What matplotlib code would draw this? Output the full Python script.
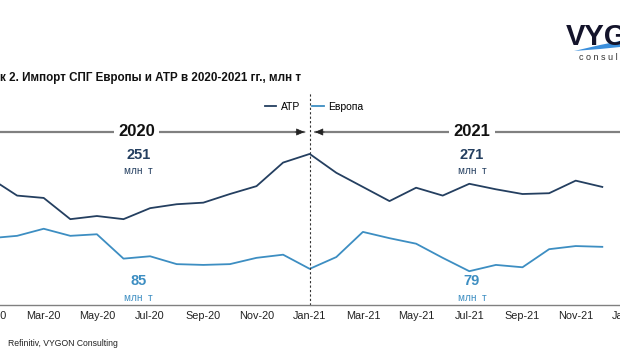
import matplotlib
matplotlib.use("Agg")
import matplotlib.pyplot as plt
from matplotlib.patches import Polygon
from matplotlib.transforms import blended_transform_factory

plt.rcParams['font.family'] = ['Liberation Sans', 'DejaVu Sans']

months = ['Jan-20', 'Feb-20', 'Mar-20', 'Apr-20', 'May-20', 'Jun-20', 'Jul-20', 'Aug-20',
          'Sep-20', 'Oct-20', 'Nov-20', 'Dec-20', 'Jan-21', 'Feb-21', 'Mar-21', 'Apr-21',
          'May-21', 'Jun-21', 'Jul-21', 'Aug-21', 'Sep-21', 'Oct-21', 'Nov-21', 'Dec-21']
apt = [23.5, 21.3, 21.0, 18.3, 18.7, 18.3, 19.7, 20.2, 20.4, 21.5, 22.5, 25.5,
       26.6, 24.2, 22.4, 20.6, 22.3, 21.3, 22.8, 22.1, 21.5, 21.6, 23.2, 22.4]
europe = [8.5, 8.8, 9.7, 8.8, 9.0, 5.9, 6.2, 5.2, 5.1, 5.2, 6.0, 6.4,
          4.6, 6.1, 9.3, 8.5, 7.8, 6.0, 4.3, 5.1, 4.8, 7.1, 7.5, 7.4]
tick_labels = ['Jan-20', 'Mar-20', 'May-20', 'Jul-20', 'Sep-20', 'Nov-20',
               'Jan-21', 'Mar-21', 'May-21', 'Jul-21', 'Sep-21', 'Nov-21', 'Jan-22']
totals_apt = ['251', '271']
totals_eu = ['85', '79']
years = ['2020', '2021']

C_APT = '#243f60'
C_EU = '#3d8ec2'
W, H = 620, 364

fig = plt.figure(figsize=(W / 100, H / 100), dpi=100)

# axes extends beyond the figure on both sides (chart is cropped)
ax_left, ax_right = -40, 660
ax_bottom, ax_top = 305, 90
ax = fig.add_axes([ax_left / W, (H - ax_bottom) / H, (ax_right - ax_left) / W,
                   (ax_bottom - ax_top) / H])
ax2 = ax.twinx()

x = list(range(len(months)))
px_per_month = 26.6
x0_px = -9.5
ax.set_xlim((ax_left - x0_px) / px_per_month, (ax_right - x0_px) / px_per_month)
ax2.set_xlim(ax.get_xlim())

scale = 7.86
ax.set_ylim(0, (ax_bottom - ax_top) / scale)
ax2.set_ylim((363 - ax_bottom) / scale, (363 - ax_top) / scale)

l1, = ax2.plot(x, apt, color=C_APT, lw=1.3, label='АТР')
l2, = ax.plot(x, europe, color=C_EU, lw=1.3, label='Европа')

ax.set_xticks(list(range(0, 25, 2)))
ax.set_xticklabels(tick_labels, fontsize=7.8, color='#222222')
ax.tick_params(axis='x', length=0, pad=4)
ax.set_yticks([])
ax2.set_yticks([])
for a in (ax, ax2):
    for s in ('top', 'left', 'right'):
        a.spines[s].set_visible(False)
    a.spines['bottom'].set_color('#808080')
    a.spines['bottom'].set_linewidth(1.0)
ax2.spines['bottom'].set_visible(False)

tr = blended_transform_factory(ax.transData, ax.transAxes)
frac = lambda p: (ax_bottom - p) / (ax_bottom - ax_top)

# dashed separator
ax.plot([12, 12], [0, frac(93)], transform=tr, color='#333333', lw=0.8,
        ls=(0, (2, 2)), clip_on=False)

# year arrows
for start, end in ((-1.5, 11.8), (25.0, 12.2)):
    ax.annotate('', xy=(end, frac(132)), xytext=(start, frac(132)), xycoords=tr, textcoords=tr,
                arrowprops=dict(arrowstyle='-', color='#808080', lw=1.6,
                                shrinkA=0, shrinkB=0))
    ax.annotate('', xy=(end, frac(132)), xytext=(end + (0.35 if start > end else -0.35), frac(132)),
                xycoords=tr, textcoords=tr,
                arrowprops=dict(arrowstyle='-|>,head_length=0.5,head_width=0.22', color='#222222',
                                lw=0.5, shrinkA=0, shrinkB=0, mutation_scale=10))
for xc, yr in zip([5.5, 18.1], years):
    ax.text(xc, frac(132), yr, transform=tr, ha='center', va='center', fontsize=12,
            fontweight='bold', color='#111111',
            bbox=dict(boxstyle='square,pad=0.25', fc='white', ec='none'))

for xc, ta, te in zip([5.55, 18.1], totals_apt, totals_eu):
    ax.text(xc, frac(155), ta, transform=tr, ha='center', va='center', fontsize=10.5,
            fontweight='bold', color=C_APT)
    ax.text(xc, frac(171), 'млн  т', transform=tr, ha='center', va='center', fontsize=7.2,
            color=C_APT)
    ax.text(xc, frac(281), te, transform=tr, ha='center', va='center', fontsize=10.5,
            fontweight='bold', color=C_EU)
    ax.text(xc, frac(298), 'млн  т', transform=tr, ha='center', va='center', fontsize=7.2,
            color=C_EU)

fig.legend(handles=[l1, l2], loc='center', bbox_to_anchor=(314 / W, (H - 107) / H),
           ncol=2, frameon=False, fontsize=7.5, handlelength=1.1, handletextpad=0.4,
           columnspacing=1.2)

# title & source
fig.text(0 / W, (H - 78) / H, 'к 2. Импорт СПГ Европы и АТР в 2020-2021 гг., млн т',
         fontsize=8.4, fontweight='bold', color='#111111', ha='left', va='center')
fig.text(8 / W, (H - 343) / H, 'Refinitiv, VYGON Consulting', fontsize=6.2,
         color='#222222', ha='left', va='center')

# logo
fig.text(566 / W, (H - 45) / H, 'VYG', fontsize=21, fontweight='heavy', color='#14142b',
         ha='left', va='baseline', family=['Liberation Sans'])
sw = Polygon([(574 / W, (H - 51) / H), (600 / W, (H - 45) / H), (620 / W, (H - 41) / H),
              (620 / W, (H - 47) / H), (600 / W, (H - 49) / H)],
             closed=True, transform=fig.transFigure, fc='#3b8fdc', ec='none')
fig.patches.append(sw)
fig.text(579 / W, (H - 57) / H, 'c o n s u l t i n g', fontsize=6.5, color='#333333',
         ha='left', va='center')

fig.savefig('out.png', dpi=100)
